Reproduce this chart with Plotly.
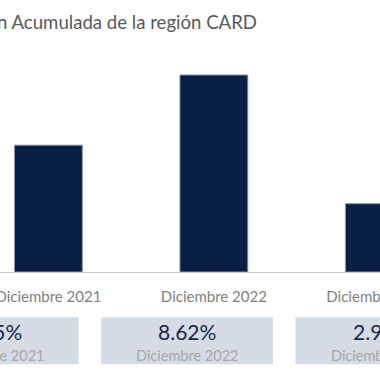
import plotly.graph_objects as go

# ---- data ----
categories = ["Diciembre 2021", "Diciembre 2022", "Diciembre 2023"]
values = [5.55, 8.62, 2.99]
value_labels = ["5.55%", "8.62%", "2.99%"]
title_text = "Inflación Acumulada de la región CARD"

# ---- style / layout constants ----
W, H = 380, 380
M_T, M_B = 50, 108
PLOT_H = H - M_T - M_B
BAR_COLOR = "#0a1f44"
FONT = "Lato"

fig = go.Figure()
fig.add_trace(go.Bar(
    x=categories, y=values, width=0.41,
    marker=dict(color=BAR_COLOR, line=dict(color="#8a94a8", width=1)),
    hoverinfo="skip",
))

def py_to_paper(py):
    return (H - M_B - py) / PLOT_H

# KPI cards below the chart
card_centers_px = [-7.3, 187.0, 381.5]
card_w = 172
card_top, card_bot = 317.3, 364.3
shapes, annotations = [], []
for i, cat in enumerate(categories):
    cx = card_centers_px[i]
    shapes.append(dict(
        type="rect", xref="paper", yref="paper",
        x0=(cx - card_w / 2) / W, x1=(cx + card_w / 2) / W,
        y0=py_to_paper(card_bot), y1=py_to_paper(card_top),
        fillcolor="#d6dce5", line=dict(width=0), layer="below",
    ))
    annotations.append(dict(
        xref="paper", yref="paper", x=cx / W, y=py_to_paper(331.7),
        text=value_labels[i], showarrow=False, xanchor="center", yanchor="middle",
        font=dict(family=FONT, size=21, color="#16284b"),
    ))
    annotations.append(dict(
        xref="paper", yref="paper", x=cx / W, y=py_to_paper(355),
        text=cat, showarrow=False, xanchor="center", yanchor="middle",
        font=dict(family=FONT, size=14.5, color="#a6a6a6"),
    ))

fig.update_layout(
    width=W, height=H,
    margin=dict(l=0, r=0, t=M_T, b=M_B, pad=0, autoexpand=False),
    paper_bgcolor="white", plot_bgcolor="white",
    showlegend=False,
    title=dict(
        text=title_text, x=257 / W, xref="paper", xanchor="right",
        y=1 - 22 / H, yref="container", yanchor="middle",
        font=dict(family=FONT, size=18.6, color="#595959"),
    ),
    xaxis=dict(
        type="category", range=[-0.2925, 2.004], automargin=False,
        showline=True, linecolor="#c8c8c8", linewidth=1,
        ticks="outside", ticklen=11, tickcolor="rgba(0,0,0,0)",
        tickfont=dict(family=FONT, size=15, color="#7f7f7f"),
        showgrid=False, zeroline=False, fixedrange=True,
    ),
    yaxis=dict(
        range=[0, values[1] * PLOT_H / 197.0], automargin=False,
        visible=False, showgrid=False, zeroline=False, fixedrange=True,
    ),
    shapes=shapes, annotations=annotations,
)

fig.write_html(
    "out.html",
    config={"displayModeBar": False},
    post_script="document.body.style.margin='0';document.body.style.overflow='hidden';",
)
